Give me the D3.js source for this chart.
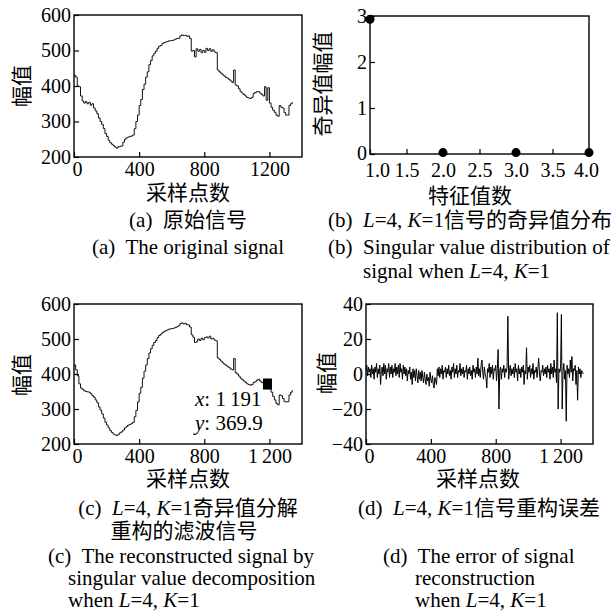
<!DOCTYPE html>
<html>
<head>
<meta charset="utf-8">
<script src="https://cdn.jsdelivr.net/npm/d3@7"></script>
<style>
  body { margin: 0; background: #fff; }
  svg text { font-family: "Liberation Serif", "Noto Sans CJK SC", serif; fill: #000; }
</style>
</head>
<body>
<div id="chart"></div>
<script>
// sample spacing of the signal arrays (one value every N samples)
const signalStep = 10;
const errorStep = 5;

// (a) original signal
const originalSignal = [
  430, 425, 400, 398, 372, 358, 352, 356, 350, 354,
  346, 350, 338, 330, 322, 310, 300, 292, 280, 266,
  258, 247, 240, 236, 232, 228, 225, 229, 230, 231,
  242, 250, 254, 256, 258, 259, 262, 280, 300, 318,
  345, 362, 390, 405, 425, 440, 460, 472, 485, 492,
  498, 506, 512, 514, 520, 522, 524, 525, 527, 528,
  528, 530, 532, 534, 534, 541, 544, 542, 543, 540,
  541, 534, 498, 500, 482, 505, 498, 503, 494, 500,
  495, 506, 500, 505, 498, 502, 496, 494, 445, 440,
  436, 432, 428, 424, 422, 418, 414, 410, 445, 403,
  400, 392, 384, 380, 376, 372, 368, 366, 365, 368,
  379, 382, 384, 384, 380, 376, 372, 398, 360, 395,
  352, 340, 332, 326, 318, 315, 345, 340, 338, 325,
  318, 318, 345, 350, 355
];

// (b) singular values
const eigenIndex = [1, 2, 3, 4];
const singularValues = [2.93, 0.03, 0.03, 0.03];

// (c) reconstructed (filtered) signal
const filteredSignal = [
  426, 412, 395, 372, 360, 356, 352, 350, 349, 348,
  344, 338, 334, 326, 318, 306, 297, 286, 274, 262,
  254, 246, 238, 233, 228, 226, 224, 228, 232, 235,
  240, 246, 250, 254, 256, 258, 262, 278, 296, 320,
  345, 362, 388, 408, 426, 444, 460, 472, 482, 490,
  496, 504, 510, 514, 518, 521, 524, 526, 528, 529,
  530, 531, 533, 535, 538, 544, 546, 543, 545, 541,
  540, 534, 512, 505, 490, 492, 500, 496, 502, 498,
  504, 506, 503, 508, 500, 502, 497, 495, 446, 442,
  437, 432, 428, 425, 421, 418, 414, 412, 444, 404,
  400, 394, 388, 384, 380, 376, 372, 370, 368, 370,
  376, 378, 382, 385, 380, 376, 374, 372, 371, 370,
  358, 348, 336, 326, 316, 312, 340, 338, 330, 321,
  320, 321, 340, 348, 354
];
const markerPoint = { x: 1191, y: 369.9 };

// (d) reconstruction error
const reconstructionError = [
  2, 5, -1, 4, 1, 3, -2, 5, 0, 3,
  -3, 4, 1, 6, -2, 3, 0, 5, -6, 2,
  4, -1, 6, 0, 5, -3, 3, 1, 6, -2,
  4, 0, 5, -2, 3, 1, 6, -1, 4, 0,
  5, -2, 6, 1, 3, -3, 5, 0, 4, -1,
  3, -4, 2, 0, 4, -3, 1, -6, 3, -2,
  2, -4, 3, -1, -5, 2, -3, 1, -4, 2,
  -2, -5, 1, -3, -6, 0, -4, -2, -7, 1,
  -3, -5, -1, -6, -8, -2, -4, -6, 3, -1,
  4, -2, 3, 0, 5, -3, 2, 1, 4, -2,
  3, 0, 5, -1, 2, -3, 4, 1, 6, -2,
  3, 0, 5, -2, 2, 1, 6, -1, 3, 0,
  4, -2, 2, 1, 5, -3, 3, 0, 4, -1,
  2, -3, 5, 1, 3, -2, 4, 0, 9, -1,
  3, -2, 5, 8, 1, -3, 4, 0, -2, -8,
  3, 1, 6, -2, 4, 0, 5, -3, 3, 2,
  5, -4, 3, 14, -20, 2, 4, -3, 3, 1,
  5, -2, 3, 1, 4, 33, -3, 2, 5, -1,
  3, 0, 4, -2, 6, 1, 3, -4, 5, 0,
  3, -2, 4, 1, 5, -6, 2, 0, 15, -3,
  4, 1, 5, -2, 3, 0, 6, -3, 2, 1,
  4, -2, 3, 9, 0, -4, 2, 1, 5, -1,
  3, 0, 4, -2, 5, 1, 3, -3, 6, 0,
  4, -2, 8, 1, 3, -5, 35, -20, 3, 1,
  3, 34, -20, 1, 6, -3, 2, -27, 5, 0,
  3, -2, 8, 1, 10, -4, 3, 2, 5, -6,
  2, -15, 4, 0, 3, -2, 2, 1, 0
];

// tick values and labels
const sampleTicks = [0, 400, 800, 1200];
const sampleLabelsA = ["0", "400", "800", "1200"];
const sampleLabelsCD = ["0", "400", "800", "1\u2009200"];
const amplitudeTicks = [200, 300, 400, 500, 600];
const eigenTicks = [1, 1.5, 2, 2.5, 3, 3.5, 4];
const singularTicks = [0, 1, 2, 3];
const errorTicks = [-40, -20, 0, 20, 40];

const W = 616, H = 616;
const svg = d3.select("#chart").append("svg")
  .attr("width", W)
  .attr("height", H);

const fontSize = 20;

function frame(box) {
  svg.append("rect")
    .attr("x", box.left)
    .attr("y", box.top)
    .attr("width", box.right - box.left)
    .attr("height", box.bottom - box.top)
    .attr("fill", "none")
    .attr("stroke", "#000")
    .attr("stroke-width", 1.4);
}

function axes(box, x, y, xTicks, xLabels, yTicks, yFormat, xPad = 5) {
  const gx = svg.append("g")
    .attr("transform", `translate(0,${box.bottom})`)
    .call(d3.axisBottom(x)
      .tickValues(xTicks)
      .tickFormat((d, i) => xLabels[i])
      .tickSizeInner(-5)
      .tickSizeOuter(0)
      .tickPadding(xPad));
  gx.select(".domain").remove();
  gx.selectAll("text").style("font-size", fontSize + "px");

  const gy = svg.append("g")
    .attr("transform", `translate(${box.left},0)`)
    .call(d3.axisLeft(y)
      .tickValues(yTicks)
      .tickFormat(yFormat)
      .tickSizeInner(-5)
      .tickSizeOuter(0)
      .tickPadding(3));
  gy.select(".domain").remove();
  gy.selectAll("text").style("font-size", fontSize + "px");
  gx.selectAll("line").attr("stroke-width", 1.2);
  gy.selectAll("line").attr("stroke-width", 1.2);
  gx.attr("font-family", null);
  gy.attr("font-family", null);
  return { gx, gy };
}

// text with *italic* segments
function label(x, y, str, opts = {}) {
  const t = svg.append("text")
    .attr("x", x)
    .attr("y", y)
    .attr("text-anchor", opts.anchor || "middle")
    .attr("dominant-baseline", "central")
    .style("font-size", (opts.size || 21) + "px")
    .style("white-space", "pre");
  if (opts.rotate) {
    t.attr("transform", `rotate(-90,${x},${y})`);
  }
  str.split("*").forEach((part, i) => {
    if (!part) return;
    t.append("tspan")
      .style("font-style", i % 2 ? "italic" : "normal")
      .text(part);
  });
  return t;
}

const lineGen = (x, y, step) => d3.line()
  .x((d, i) => x(i * step))
  .y((d) => y(d));

// ---- (a) original signal
const boxA = { left: 74, right: 302, top: 15, bottom: 157 };
const xA = d3.scaleLinear().domain([0, 1400]).range([boxA.left, boxA.right]);
const yA = d3.scaleLinear().domain([200, 600]).range([boxA.bottom, boxA.top]);
const axA = axes(boxA, xA, yA, sampleTicks, sampleLabelsA, amplitudeTicks, d3.format("d"));
axA.gx.selectAll("text").filter((d) => d === 0).attr("dx", 3);
svg.append("path")
  .datum(originalSignal)
  .attr("d", lineGen(xA, yA, signalStep).curve(d3.curveStepAfter))
  .attr("fill", "none")
  .attr("stroke", "#111")
  .attr("stroke-width", 1);
frame(boxA);
label(22, 86, "幅值", { rotate: true });
label(188, 193, "采样点数");
label(188, 220, "(a)  原始信号");
label(188, 247, "(a)  The original signal");

// ---- (b) singular values
const boxB = { left: 370, right: 589, top: 16, bottom: 154 };
const xB = d3.scaleLinear().domain([1, 4]).range([boxB.left, boxB.right]);
const yB = d3.scaleLinear().domain([0, 3]).range([boxB.bottom, boxB.top]);
const axB = axes(boxB, xB, yB, eigenTicks, eigenTicks.map(d3.format(".1f")), singularTicks, d3.format("d"), 9);
axB.gx.selectAll("text").filter((d) => d === 1).attr("dx", 7);
axB.gx.selectAll("text").filter((d) => d === 4).attr("dx", -3);
axB.gy.selectAll("text").filter((d) => d === 0).attr("dy", "0.25em");
frame(boxB);
svg.selectAll("circle.sv")
  .data(eigenIndex)
  .enter()
  .append("circle")
  .attr("class", "sv")
  .attr("cx", (d) => xB(d))
  .attr("cy", (d, i) => yB(singularValues[i]))
  .attr("r", 4.5)
  .attr("fill", "#000");
label(323, 84, "奇异值幅值", { rotate: true });
label(470, 196, "特征值数");
label(328, 220, "(b)  *L*=4, *K*=1信号的奇异值分布", { anchor: "start" });
label(328, 247, "(b)  Singular value distribution of", { anchor: "start" });
label(363, 271, "signal when *L*=4, *K*=1", { anchor: "start" });

// ---- (c) reconstructed signal
const boxC = { left: 74, right: 302, top: 304, bottom: 444 };
const xC = d3.scaleLinear().domain([0, 1400]).range([boxC.left, boxC.right]);
const yC = d3.scaleLinear().domain([200, 600]).range([boxC.bottom, boxC.top]);
const axC = axes(boxC, xC, yC, sampleTicks, sampleLabelsCD, amplitudeTicks, d3.format("d"));
axC.gx.selectAll("text").filter((d) => d === 0).attr("dx", 3);
svg.append("path")
  .datum(filteredSignal)
  .attr("d", lineGen(xC, yC, signalStep).curve(d3.curveStepAfter))
  .attr("fill", "none")
  .attr("stroke", "#111")
  .attr("stroke-width", 1);
svg.append("rect")
  .attr("x", xC(markerPoint.x) - 5)
  .attr("y", yC(markerPoint.y) - 6)
  .attr("width", 9)
  .attr("height", 11)
  .attr("fill", "#000");
frame(boxC);
label(195, 399, "*x*: 1\u2009191", { anchor: "start" });
label(195, 423, "*y*: 369.9", { anchor: "start" });
label(22, 375, "幅值", { rotate: true });
label(188, 479, "采样点数");
label(188, 508, "(c)  *L*=4, *K*=1奇异值分解");
label(184, 531, "重构的滤波信号");
label(48, 556, "(c)  The reconstructed signal by", { anchor: "start" });
label(68, 578, "singular value decomposition", { anchor: "start" });
label(68, 600, "when *L*=4, *K*=1", { anchor: "start" });

// ---- (d) reconstruction error
const boxD = { left: 366, right: 593, top: 304, bottom: 444 };
const xD = d3.scaleLinear().domain([0, 1400]).range([boxD.left, boxD.right]);
const yD = d3.scaleLinear().domain([-40, 40]).range([boxD.bottom, boxD.top]);
const axD = axes(boxD, xD, yD, sampleTicks, sampleLabelsCD, errorTicks, (d) => d < 0 ? "\u2212" + (-d) : d);
axD.gx.selectAll("text").filter((d) => d === 0).attr("dx", 3);
svg.append("path")
  .datum(reconstructionError)
  .attr("d", lineGen(xD, yD, errorStep))
  .attr("fill", "none")
  .attr("stroke", "#000")
  .attr("stroke-width", 1);
frame(boxD);
label(327, 373, "幅值", { rotate: true });
label(478, 479, "采样点数");
label(358, 508, "(d)  *L*=4, *K*=1信号重构误差", { anchor: "start" });
label(383, 556, "(d)  The error of signal", { anchor: "start" });
label(415, 578, "reconstruction", { anchor: "start" });
label(415, 600, "when *L*=4, *K*=1", { anchor: "start" });
</script>
</body>
</html>
